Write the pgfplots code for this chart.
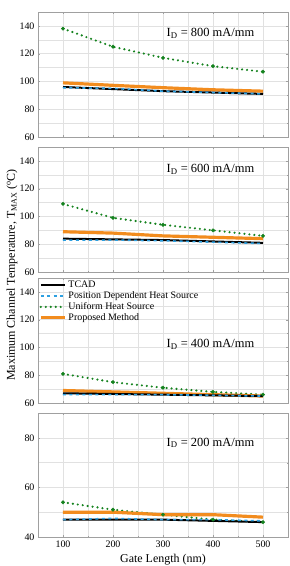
\documentclass[border=0pt]{standalone}
\usepackage{pgfplots}
\pgfplotsset{compat=1.18}
\usepackage{fontspec}
\setmainfont{Liberation Serif}

\definecolor{tcad}{RGB}{0,0,0}
\definecolor{posdep}{RGB}{45,160,225}
\definecolor{uniform}{RGB}{20,130,30}
\definecolor{proposed}{RGB}{242,140,30}
\definecolor{framegray}{RGB}{160,160,160}
\definecolor{gridgray}{RGB}{225,225,225}

\pgfplotsset{
  panel/.style={
    scale only axis,
    width=250bp, height=125bp,
    xmin=50, xmax=550,
    xtick={100,200,300,400,500},
    minor xtick={50,150,250,350,450,550},
    grid=both,
    major grid style={gridgray, line width=0.5pt},
    minor grid style={gridgray, line width=0.5pt},
    axis line style={framegray, line width=0.8pt},
    tick style={framegray},
    major tick length=2.5pt, minor tick length=1.5pt,
    tick align=inside,
    ticklabel style={font=\fontsize{10}{12}\selectfont},
    /pgf/number format/assume math mode=true,
    clip=false,
  },
  tcadline/.style={tcad, line width=2pt},
  posline/.style={posdep, line width=1.6pt, dash pattern=on 3pt off 3.5pt},
  unidots/.style={uniform, line width=2.4pt, dash pattern=on 0pt off 5pt, line cap=round},
  uniline/.style={unidots,
    mark=*, mark size=1.8pt, mark options={solid, line width=0.3pt, fill=uniform, draw=uniform}},
  propline/.style={proposed, line width=3.2pt},
}

\begin{document}
\begin{tikzpicture}
\useasboundingbox (0,0) rectangle (290bp,-566bp);

% I_D = 800 mA/mm
\begin{axis}[panel, at={(38bp,-12bp)}, anchor=north west,
  ymin=60, ymax=150, ytick={60,80,...,140}, minor ytick={70,90,...,150},
  xticklabels={}]
\addplot[uniline] coordinates {(100,138) (200,125) (300,117) (400,111) (500,107)};
\addplot[propline] coordinates {(100,99) (200,97.2) (300,95.5) (400,94) (500,93)};
\addplot[tcadline] coordinates {(100,96) (200,94.5) (300,93) (400,92) (500,91)};
\addplot[posline] coordinates {(100,95.5) (200,95) (300,93) (400,92) (500,91)};
\node[font=\fontsize{12.5}{14}\selectfont] at (rel axis cs:0.69,0.83) {I\textsubscript{D} = 800 mA/mm};
\end{axis}

% I_D = 600 mA/mm
\begin{axis}[panel, at={(38bp,-147bp)}, anchor=north west,
  ymin=60, ymax=150, ytick={60,80,...,140}, minor ytick={70,90,...,150},
  xticklabels={}]
\addplot[uniline] coordinates {(100,109) (200,99) (300,94) (400,90) (500,86)};
\addplot[propline] coordinates {(100,89) (200,88) (300,86) (400,85) (500,84)};
\addplot[tcadline] coordinates {(100,84) (200,83.5) (300,83) (400,82) (500,81)};
\addplot[posline] coordinates {(100,83) (200,83) (300,82.5) (400,81.5) (500,80.5)};
\node[font=\fontsize{12.5}{14}\selectfont] at (rel axis cs:0.69,0.82) {I\textsubscript{D} = 600 mA/mm};
\end{axis}

% I_D = 400 mA/mm
\begin{axis}[panel, at={(38bp,-278bp)}, anchor=north west,
  ymin=60, ymax=150, ytick={60,80,...,140}, minor ytick={70,90,...,150},
  xticklabels={},
  legend style={draw=none, fill=none, at={(rel axis cs:0,1)}, anchor=north west,
    font=\fontsize{10}{12}\selectfont, row sep=-1.5pt, inner sep=1pt},
  legend cell align=left,
  legend image code/.code={\draw[#1] (0cm,0cm) -- (0.85cm,0cm);}]
\addlegendimage{tcadline}
\addlegendentry{TCAD}
\addlegendimage{posline}
\addlegendentry{Position Dependent Heat Source}
\addlegendimage{unidots}
\addlegendentry{Uniform Heat Source}
\addlegendimage{propline}
\addlegendentry{Proposed Method}
\addplot[uniline, forget plot] coordinates {(100,81) (200,75) (300,71) (400,68) (500,66)};
\addplot[propline, forget plot] coordinates {(100,69) (200,68) (300,67) (400,66) (500,65)};
\addplot[tcadline, forget plot] coordinates {(100,67) (200,66.5) (300,66) (400,65.5) (500,65)};
\addplot[posline, forget plot] coordinates {(100,66) (200,66) (300,66) (400,65.5) (500,65)};
\node[font=\fontsize{12.5}{14}\selectfont] at (rel axis cs:0.69,0.47) {I\textsubscript{D} = 400 mA/mm};
\end{axis}

% I_D = 200 mA/mm
\begin{axis}[panel, at={(38bp,-413bp)}, anchor=north west, height=124bp,
  ymin=40, ymax=90, ytick={40,60,80}, minor ytick={50,70,90},
  xlabel={Gate Length (nm)},
  xlabel style={font=\fontsize{12}{14}\selectfont}]
\addplot[uniline] coordinates {(100,54) (200,51) (300,49) (400,47) (500,46)};
\addplot[propline] coordinates {(100,50) (200,50) (300,49) (400,49) (500,48)};
\addplot[tcadline] coordinates {(100,47) (200,47) (300,47) (400,46.5) (500,46)};
\addplot[posline] coordinates {(100,47) (200,47.5) (300,47) (400,47) (500,46.5)};
\node[font=\fontsize{12.5}{14}\selectfont] at (rel axis cs:0.69,0.76) {I\textsubscript{D} = 200 mA/mm};
\end{axis}

\node[rotate=90, font=\fontsize{12}{14}\selectfont] at (12bp,-275bp)
  {Maximum Channel Temperature, T\textsubscript{MAX} (\textsuperscript{o}C)};
\end{tikzpicture}
\end{document}
